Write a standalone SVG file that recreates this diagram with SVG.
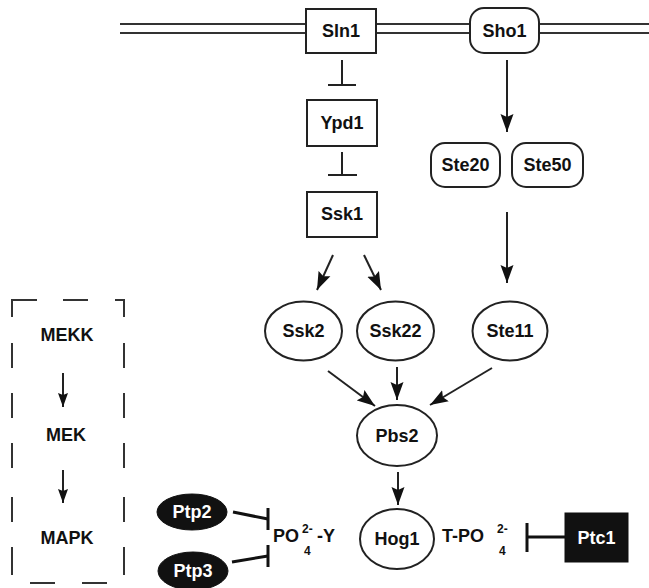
<svg xmlns="http://www.w3.org/2000/svg" width="649" height="588" viewBox="0 0 649 588">
  <defs>
    <style>
      .lbl { font-family: "Liberation Sans", Arial, sans-serif; font-weight: bold; font-size: 18px; fill: #111; text-anchor: middle; }
      .lblw { font-family: "Liberation Sans", Arial, sans-serif; font-weight: bold; font-size: 18px; fill: #fff; text-anchor: middle; }
      .chem { font-family: "Liberation Sans", Arial, sans-serif; font-weight: bold; font-size: 18px; fill: #111; }
      .small { font-family: "Liberation Sans", Arial, sans-serif; font-weight: bold; font-size: 12px; fill: #111; }
      .box { fill: #fff; stroke: #222; stroke-width: 2; }
      .shape { fill: #fff; stroke: #222; stroke-width: 2; }
      .dark { fill: #111; stroke: #111; stroke-width: 1; }
      .mem { stroke: #333; stroke-width: 2; fill: none; }
      .edge { stroke: #222; stroke-width: 2; fill: none; }
      .act { marker-end: url(#arrow); }
      .act-s { marker-end: url(#arrowSmall); }
      .inh { stroke: #111; stroke-width: 3; fill: none; }
      .dash { stroke: #333; stroke-width: 2; fill: none; }
    </style>
    <marker id="arrow" markerUnits="userSpaceOnUse" markerWidth="19" markerHeight="14" refX="18" refY="7" orient="auto">
      <path d="M0,0.5 L18,7 L0,13.5 L3,7 z" fill="#111"/>
    </marker>
    <marker id="arrowSmall" markerUnits="userSpaceOnUse" markerWidth="15" markerHeight="11" refX="14" refY="5.5" orient="auto">
      <path d="M0,0.5 L14,5.5 L0,10.5 L2,5.5 z" fill="#111"/>
    </marker>
  </defs>

  <rect width="649" height="588" fill="#fff"/>

  <!-- membrane -->
  <g id="membrane">
    <line class="mem" x1="120" y1="24" x2="649" y2="24"/>
    <line class="mem" x1="120" y1="33" x2="649" y2="33"/>
  </g>

  <!-- connectors -->
  <g id="connectors">
    <!-- inhibitions along the Sln1 branch -->
    <line class="edge" x1="342" y1="60" x2="342" y2="85"/>
    <line class="edge" x1="328" y1="85" x2="356" y2="85"/>
    <line class="edge" x1="342" y1="152" x2="342" y2="175"/>
    <line class="edge" x1="328" y1="175" x2="357" y2="175"/>
    <!-- Ssk1 to MAPKKKs -->
    <line class="edge act" x1="333" y1="255" x2="317" y2="290"/>
    <line class="edge act" x1="364" y1="255" x2="381" y2="290"/>
    <!-- Sho1 branch -->
    <line class="edge act" x1="507" y1="60" x2="507" y2="132"/>
    <line class="edge act" x1="507" y1="212" x2="507" y2="283"/>
    <!-- MAPKKKs to Pbs2 -->
    <line class="edge act" x1="328" y1="371" x2="375" y2="406"/>
    <line class="edge act" x1="397" y1="367" x2="397" y2="400"/>
    <line class="edge act" x1="492" y1="368" x2="430" y2="405"/>
    <!-- Pbs2 to Hog1 -->
    <line class="edge act" x1="398" y1="472" x2="398" y2="505"/>
    <!-- phosphatases -->
    <line class="inh" x1="233" y1="512" x2="268" y2="519"/>
    <line class="inh" x1="268" y1="508" x2="268" y2="530"/>
    <line class="inh" x1="232" y1="562" x2="268" y2="556"/>
    <line class="inh" x1="268" y1="545" x2="268" y2="567"/>
    <line class="inh" x1="527" y1="537" x2="565" y2="537"/>
    <line class="inh" x1="527" y1="523" x2="527" y2="552"/>
    <!-- generic cascade -->
    <line class="edge act-s" x1="63" y1="373" x2="63" y2="407"/>
    <line class="edge act-s" x1="63" y1="470" x2="63" y2="503"/>
  </g>

  <!-- generic module legend -->
  <g id="legend">
    <path class="dash" d="M12,317 V300 H37 M63,300 H88 M115,300 H124 V317
      M12,343 V368 M12,393 V418 M12,443 V468 M12,497 V522 M12,547 V575
      M124,343 V368 M124,393 V418 M124,443 V468 M124,497 V522 M124,547 V575
      M30,583 H55 M82,583 H107"/>
    <text class="lbl" x="67" y="341">MEKK</text>
    <text class="lbl" x="66" y="441">MEK</text>
    <text class="lbl" x="67" y="544">MAPK</text>
  </g>

  <g id="Sln1">
    <rect class="box" x="306" y="9" width="70" height="44"/>
    <text class="lbl" x="341" y="37">Sln1</text>
  </g>
  <g id="Sho1">
    <rect class="box" x="470" y="8" width="69" height="45" rx="14"/>
    <text class="lbl" x="504.5" y="37">Sho1</text>
  </g>
  <g id="Ypd1">
    <rect class="box" x="307" y="100" width="70" height="46"/>
    <text class="lbl" x="342" y="129">Ypd1</text>
  </g>
  <g id="Ssk1">
    <rect class="box" x="307" y="192" width="70" height="45"/>
    <text class="lbl" x="342" y="220">Ssk1</text>
  </g>
  <g id="Ste20">
    <rect class="box" x="431" y="143" width="69" height="44" rx="14"/>
    <text class="lbl" x="465.5" y="171">Ste20</text>
  </g>
  <g id="Ste50">
    <rect class="box" x="512" y="143" width="71" height="44" rx="14"/>
    <text class="lbl" x="547.5" y="171">Ste50</text>
  </g>
  <g id="Ssk2">
    <ellipse class="shape" cx="303.5" cy="331" rx="38.5" ry="29.5"/>
    <text class="lbl" x="303.5" y="337">Ssk2</text>
  </g>
  <g id="Ssk22">
    <ellipse class="shape" cx="395.5" cy="331" rx="38.5" ry="29.5"/>
    <text class="lbl" x="395.5" y="337">Ssk22</text>
  </g>
  <g id="Ste11">
    <ellipse class="shape" cx="510" cy="331" rx="37.5" ry="29.5"/>
    <text class="lbl" x="510" y="337">Ste11</text>
  </g>
  <g id="Pbs2">
    <ellipse class="shape" cx="397" cy="435.5" rx="40" ry="30.5"/>
    <text class="lbl" x="397" y="442">Pbs2</text>
  </g>
  <g id="Hog1">
    <ellipse class="shape" cx="397" cy="539" rx="37" ry="30"/>
    <text class="lbl" x="397" y="545">Hog1</text>
  </g>
  <g id="Ptp2">
    <ellipse class="dark" cx="192" cy="512" rx="35" ry="18"/>
    <text class="lblw" x="192" y="518">Ptp2</text>
  </g>
  <g id="Ptp3">
    <ellipse class="dark" cx="193" cy="571" rx="35" ry="19"/>
    <text class="lblw" x="193" y="577">Ptp3</text>
  </g>
  <g id="Ptc1">
    <rect class="dark" x="565" y="513" width="63" height="49"/>
    <text class="lblw" x="596.5" y="544">Ptc1</text>
  </g>

  <!-- phosphorylated residues -->
  <g id="pY">
    <text class="chem" x="273" y="542">PO</text>
    <text class="small" x="302" y="533">2-</text>
    <text class="small" x="304" y="555">4</text>
    <text class="chem" x="317" y="542">-Y</text>
  </g>
  <g id="pT">
    <text class="chem" x="442" y="542">T-PO</text>
    <text class="small" x="497" y="533">2-</text>
    <text class="small" x="499" y="555">4</text>
  </g>
</svg>
